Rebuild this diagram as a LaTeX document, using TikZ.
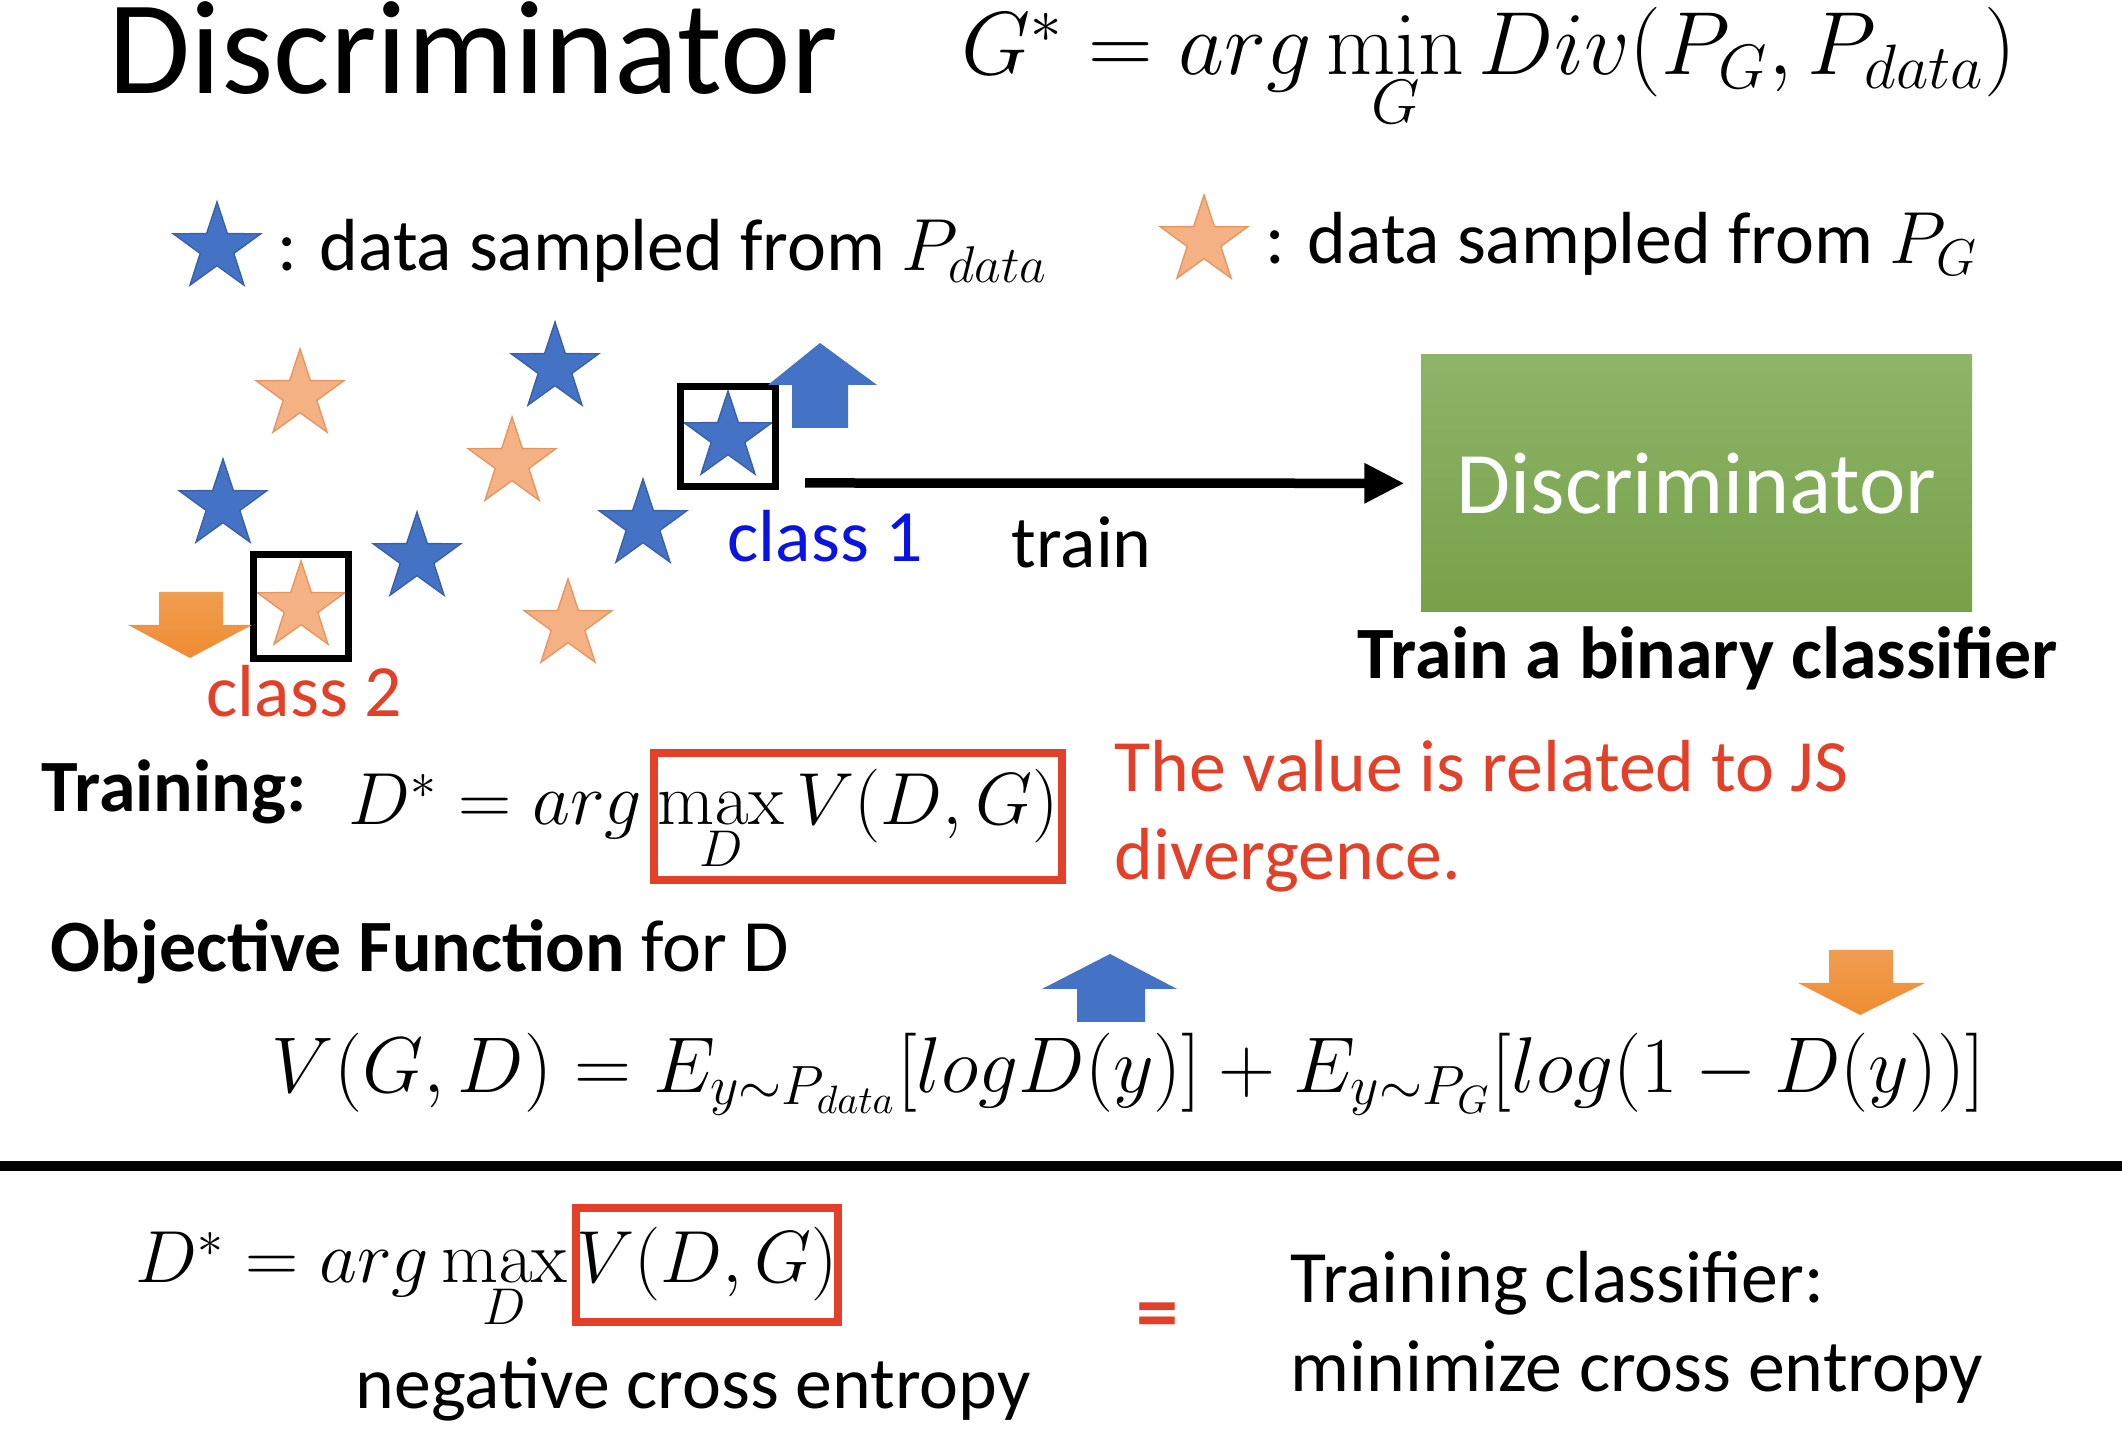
\RequirePackage{fix-cm}
\documentclass[tikz,border=0pt]{standalone}
\usepackage[no-math]{fontspec}
\setmainfont{Carlito}
\usetikzlibrary{shapes.geometric, arrows.meta}
\definecolor{starblue}{RGB}{68,114,196}
\definecolor{starpeach}{RGB}{244,177,131}
\definecolor{peachedge}{RGB}{232,150,95}
\definecolor{arroworange}{RGB}{238,140,50}
\definecolor{slidered}{RGB}{226,64,40}
\definecolor{classblue}{RGB}{10,20,225}
\definecolor{discgreenA}{RGB}{141,180,104}
\definecolor{discgreenB}{RGB}{119,161,73}

\tikzset{
  bstar/.style={star, star points=5, star point ratio=2.6, minimum size=0.92cm,
    inner sep=0pt, fill=starblue, draw=starblue!85!black, line width=0.4pt},
  ostar/.style={star, star points=5, star point ratio=2.6, minimum size=0.92cm,
    inner sep=0pt, fill=starpeach, draw=peachedge, line width=0.4pt},
  selbox/.style={draw, line width=0.07cm, minimum width=0.95cm, minimum height=1.0cm, inner sep=0pt},
  redbox/.style={draw=slidered, line width=0.08cm, inner xsep=0pt, inner ysep=0.1cm},
  trainarr/.style={line width=0.095cm, -{Triangle[length=0.4cm, width=0.38cm]}, shorten >=0.16cm},
  mathtxt/.style={font=\fontsize{21}{25}\selectfont},
}

\begin{document}
\begin{tikzpicture}[font=\fontsize{21}{25}\selectfont, inner sep=0pt]
\useasboundingbox (0,0) rectangle (21.22,14.36);

% ============================================================
%  Heading
% ============================================================
\node[anchor=base west, font=\fontsize{38}{44}\selectfont] (title) at (1.08,13.42) {Discriminator};
\node[anchor=base west, font=\fontsize{25.5}{30}\selectfont] (gstar) at (9.61,13.61)
  {$G^* = arg\min\limits_G Div(P_G, P_{data})$};

% ---- legend ----
\node[bstar] (legb) at (2.17,11.88) {};
\node[anchor=base west] (legbtxt) at (2.77,11.65) {: data sampled from $P_{data}$};
\node[ostar] (lego) at (12.04,11.95) {};
\node[anchor=base west] (legotxt) at (12.65,11.72) {: data sampled from $P_G$};

% ============================================================
%  Sample cloud
% ============================================================
\node[ostar] (o1) at (3.00,10.41) {};
\node[bstar] (b1) at (5.55,10.68) {};
\node[ostar] (o2) at (5.12,9.73) {};
\node[bstar] (b2) at (2.23,9.31) {};
\node[bstar] (b3) at (4.17,8.78) {};
\node[bstar] (b4) at (6.43,9.11) {};
\node[ostar] (o3) at (3.01,8.29) {};
\node[ostar] (o4) at (5.68,8.11) {};
\node[bstar] (b5) at (7.28,9.99) {};

% picked samples
\node[selbox] (box1) at (b5) {};
\node[selbox, minimum height=1.04cm] (box2) at (o3) {};
\node[anchor=base west, text=classblue] (cls1) at (7.27,8.74) {class 1};
\node[anchor=base west, text=slidered] (cls2) at (2.06,7.19) {class 2};

% block arrows: up = raise, down = lower
\fill[starblue] (8.20,10.93) -- (8.77,10.51) -- (8.48,10.51) -- (8.48,10.08)
  -- (7.92,10.08) -- (7.92,10.51) -- (7.68,10.51) -- cycle;
\shade[top color=arroworange!85!white, bottom color=arroworange]
  (1.59,8.44) -- (2.23,8.44) -- (2.23,8.11) -- (2.52,8.11) -- (1.90,7.78)
  -- (1.28,8.11) -- (1.59,8.11) -- cycle;

% ============================================================
%  Discriminator block
% ============================================================
\node[minimum width=5.51cm, minimum height=2.57cm, top color=discgreenA, bottom color=discgreenB,
  text=white, font=\fontsize{25}{30}\selectfont] (disc) at (16.965,9.525) {Discriminator};
\coordinate (trainstart) at (8.05,9.53);
\draw[trainarr] (trainstart) -- (disc);
\node[anchor=base west] (train) at (10.11,8.68) {train};
\node[anchor=base west, font=\fontsize{21}{25}\selectfont\bfseries] (binary) at (13.57,7.57)
  {Train a binary classifier};

% ============================================================
%  Training objective
% ============================================================
\node[anchor=base west, font=\fontsize{21}{25}\selectfont\bfseries] (trainlbl) at (0.41,6.24) {Training:};
\node[redbox, mathtxt, anchor=base west, minimum width=4.08cm, text height=0.62cm, text depth=0.45cm]
  (maxv) at (6.50,6.11) {$\max\limits_D V(D,G)$};
\node[mathtxt, anchor=base east, inner xsep=2pt] (dstar) at (maxv.base west) {$D^* = arg$};
\node[anchor=base west, text=slidered] (js1) at (11.14,6.44) {The value is related to JS};
\node[anchor=base west, text=slidered] (js2) at (11.14,5.56) {divergence.};

\node[anchor=base west] (objlbl) at (0.50,4.64) {\textbf{Objective Function} for D};
\fill[starblue] (11.10,4.82) -- (11.77,4.47) -- (11.45,4.47) -- (11.45,4.14)
  -- (10.77,4.14) -- (10.77,4.47) -- (10.42,4.47) -- cycle;
\shade[top color=arroworange!85!white, bottom color=arroworange]
  (18.29,4.86) -- (18.93,4.86) -- (18.93,4.53) -- (19.25,4.53) -- (18.60,4.21)
  -- (17.98,4.53) -- (18.29,4.53) -- cycle;
\node[anchor=base west, font=\fontsize{22.5}{27}\selectfont] (vform) at (2.71,3.43)
  {$V(G,D) = E_{y\sim P_{data}}[logD(y)] + E_{y\sim P_G}\Big[log\Big(1-D(y)\Big)\Big]$};

% separator
\draw[line width=0.095cm] (0,2.70) -- (21.22,2.70);

% ============================================================
%  Bottom: equivalence
% ============================================================
\node[redbox, mathtxt, anchor=base west, minimum width=2.54cm, text height=0.65cm, text depth=0.29cm]
  (vbox) at (5.72,1.53) {$V(D,G)$};
\node[mathtxt, anchor=base east, inner xsep=1pt] (dstar2) at (vbox.base west) {$D^* = arg\max\limits_D$};
\node[anchor=base west] (negce) at (3.55,0.27) {negative cross entropy};
\node[text=slidered, font=\fontsize{24}{28}\selectfont\bfseries] (eq) at (11.57,1.14) {=};
\node[anchor=base west] (tc1) at (12.90,1.33) {Training classifier:};
\node[anchor=base west] (tc2) at (12.90,0.44) {minimize cross entropy};

\end{tikzpicture}
\end{document}
